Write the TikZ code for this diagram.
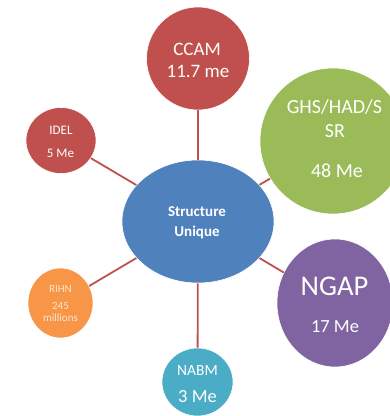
\documentclass[tikz,border=0pt]{standalone}
\usepackage{fontspec}
\setmainfont{Carlito}
\usetikzlibrary{shapes.geometric}
\definecolor{cred}{HTML}{C0504D}
\definecolor{cgreen}{HTML}{9BBB59}
\definecolor{cblue}{HTML}{4F81BD}
\definecolor{cpurple}{HTML}{8064A2}
\definecolor{corange}{HTML}{F79646}
\definecolor{cteal}{HTML}{4BACC6}
\begin{document}
\begin{tikzpicture}[x=1pt,y=-1pt,
  bubble/.style={ellipse,inner sep=0pt,draw=white,line width=0.6pt},
  link/.style={draw=cred,line width=1.8pt},
  txt/.style={text=white,anchor=base,inner sep=0pt}]
\useasboundingbox (0,0) rectangle (390,416);
\clip (0,0) rectangle (390,416);
\node[bubble,fill=cblue,minimum width=152,minimum height=123] (center) at (198,221.5) {};
\node[bubble,fill=cred,minimum width=103,minimum height=103] (ccam) at (198,58.5) {};
\node[bubble,fill=cred,minimum width=70,minimum height=66] (idel) at (61,140.5) {};
\node[bubble,fill=cgreen,minimum width=146,minimum height=146] (ghs) at (333,141) {};
\node[bubble,fill=cpurple,minimum width=116,minimum height=128] (ngap) at (335,303) {};
\node[bubble,fill=corange,minimum width=65,minimum height=70] (rihn) at (60.5,303) {};
\node[bubble,fill=cteal,minimum width=71,minimum height=68] (nabm) at (197.5,382) {};

\draw[link] (center) -- (ccam);
\draw[link] (center) -- (idel);
\draw[link] (center) -- (ghs);
\draw[link] (center) -- (ngap);
\draw[link] (center) -- (rihn);
\draw[link] (center) -- (nabm);

\node[txt,font=\bfseries\fontsize{15}{15}\selectfont] (t1) at (197,216.5) {Structure};
\node[txt,font=\bfseries\fontsize{15}{15}\selectfont] (t2) at (197,236) {Unique};
\node[txt,font=\fontsize{19}{19}\selectfont] (t3) at (197,55) {CCAM};
\node[txt,font=\fontsize{19}{19}\selectfont] (t4) at (198,77) {11.7 me};
\node[txt,font=\fontsize{13}{13}\selectfont] (t5) at (61,134) {IDEL};
\node[txt,font=\fontsize{13}{13}\selectfont] (t6) at (60.5,157) {5 Me};
\node[txt,font=\fontsize{20}{20}\selectfont] (t7) at (334.5,113) {GHS/HAD/S};
\node[txt,font=\fontsize{20}{20}\selectfont] (t8) at (335,137) {SR};
\node[txt,font=\fontsize{20}{20}\selectfont] (t9) at (337,177) {48 Me};
\node[txt,font=\fontsize{28.5}{28.5}\selectfont] (t10) at (334.5,295) {NGAP};
\node[txt,font=\fontsize{18.5}{18.5}\selectfont] (t11) at (335,332) {17 Me};
\node[txt,text opacity=0.75,font=\fontsize{11}{11}\selectfont] (t12) at (60.5,292) {RIHN};
\node[txt,text opacity=0.75,font=\fontsize{11}{11}\selectfont] (t13) at (60.5,309) {245};
\node[txt,text opacity=0.75,font=\fontsize{11}{11}\selectfont] (t14) at (60.5,321) {millions};
\node[txt,font=\fontsize{15.5}{15.5}\selectfont] (t15) at (197.5,375) {NABM};
\node[txt,font=\fontsize{18.5}{18.5}\selectfont] (t16) at (197.5,402) {3 Me};
\end{tikzpicture}
\end{document}
